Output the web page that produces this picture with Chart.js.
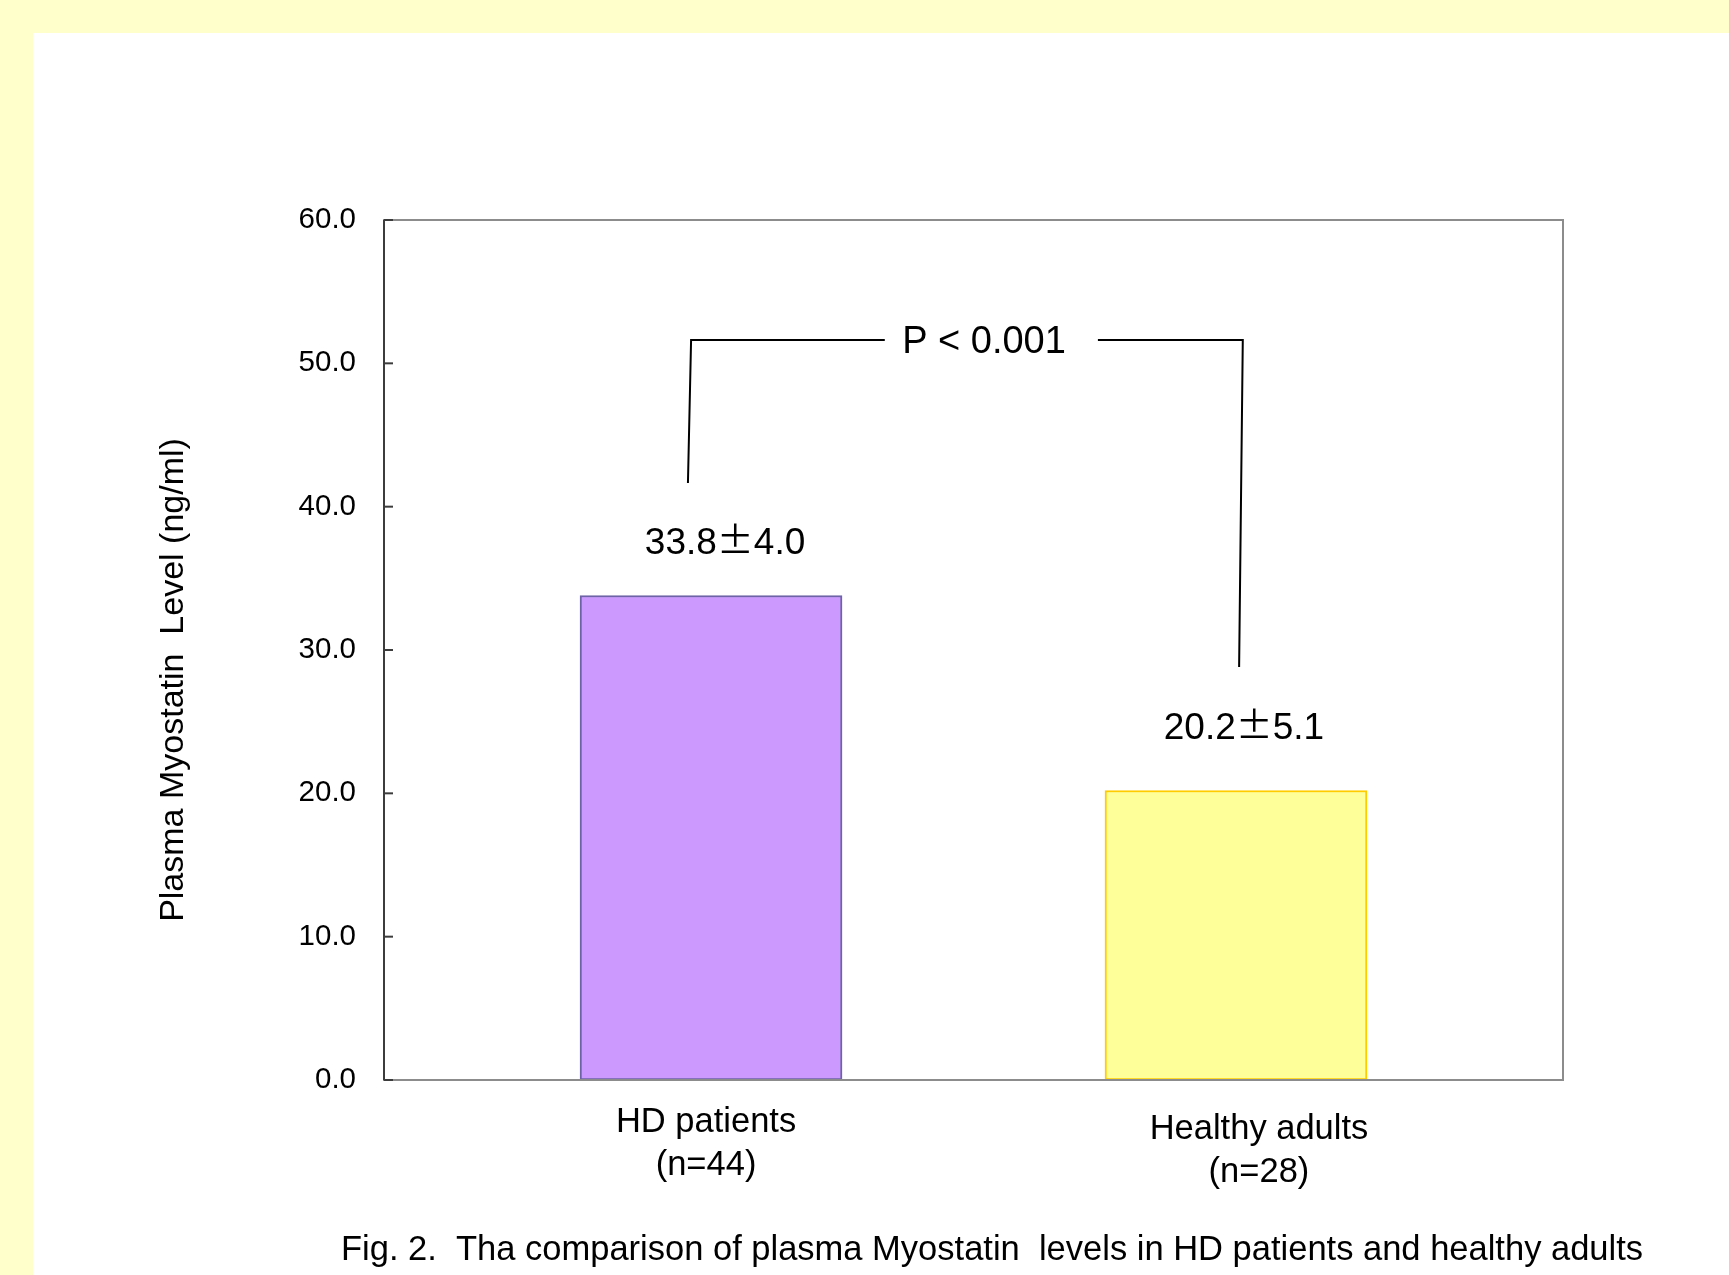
<!DOCTYPE html>
<html>
<head>
<meta charset="utf-8">
<script src="https://cdn.jsdelivr.net/npm/chart.js@4/dist/chart.umd.min.js"></script>
<style>
  html, body { margin: 0; padding: 0; background: #FFFFCC; width: 1729px; height: 1275px; overflow: hidden; }
  #panel { position: absolute; left: 33px; top: 33px; width: 1696px; height: 1242px; background: #fff; }
  canvas { display: block; }
</style>
</head>
<body>
<div id="panel"><canvas id="c" width="1696" height="1242"></canvas></div>
<script>
// Groups and measured plasma myostatin (ng/ml): mean and SD
const groups = ['HD patients', 'Healthy adults'];
const groupN = [44, 28];
const means = [33.8, 20.2];
const sds = [4.0, 5.1];
const yTicks = [0, 10, 20, 30, 40, 50, 60];
const pLabel = 'P < 0.001';
const yTitle = 'Plasma Myostatin  Level (ng/ml)';
const caption = 'Fig. 2.  Tha comparison of plasma Myostatin  levels in HD patients and healthy adults';

// Significance bracket, in data units (x = group position, y = ng/ml)
const bracketLeft = [[0.956, 41.65], [0.962, 51.63], [1.331, 51.63]];
const bracketRight = [[1.737, 51.63], [2.013, 51.63], [2.006, 28.81]];
const pLabelPos = [1.52, 51.63];

const FONT = '"Liberation Sans", Arial, sans-serif';
const PM_FONT = '"Noto Sans CJK JP", "Liberation Sans", sans-serif';

// label placement relative to each bar (pixels)
const valueLabelOffset = [[14, -42], [8, -51]];
const groupLabelOffset = [[-5, 0], [23, 7]];

// "mean ± sd" with a full-width plus-minus sign, centred on x
function drawMeanSd(ctx, left, right, x, y, size) {
  ctx.font = size + 'px ' + FONT;
  const wl = ctx.measureText(left).width;
  const wr = ctx.measureText(right).width;
  ctx.font = size + 'px ' + PM_FONT;
  const wp = ctx.measureText('\u00B1').width;
  let cx = x - (wl + wp + wr) / 2;
  ctx.textAlign = 'left';
  ctx.font = size + 'px ' + FONT;
  ctx.fillText(left, cx, y);
  cx += wl;
  ctx.font = size + 'px ' + PM_FONT;
  ctx.fillText('\u00B1', cx, y);
  cx += wp;
  ctx.font = size + 'px ' + FONT;
  ctx.fillText(right, cx, y);
  ctx.textAlign = 'center';
}

const annotations = {
  id: 'annotations',
  afterDraw(chart) {
    const ctx = chart.ctx;
    const xs = chart.scales.x, ys = chart.scales.y;
    const a = chart.chartArea;
    ctx.save();

    // plot frame
    ctx.lineWidth = 2;
    ctx.strokeStyle = '#8c8c8c';
    ctx.strokeRect(a.left, a.top, a.right - a.left, a.bottom - a.top);
    ctx.strokeStyle = '#3c3c3c';
    ctx.beginPath();
    ctx.moveTo(a.left, a.top);
    ctx.lineTo(a.left, a.bottom);
    ctx.stroke();
    // inward tick marks
    yTicks.forEach(v => {
      const y = ys.getPixelForValue(v);
      ctx.beginPath();
      ctx.moveTo(a.left, y);
      ctx.lineTo(a.left + 9, y);
      ctx.stroke();
    });

    // value labels over bars
    ctx.fillStyle = '#000';
    ctx.textAlign = 'center';
    ctx.textBaseline = 'alphabetic';
    means.forEach((m, i) => {
      const x = xs.getPixelForValue(i + 1) + valueLabelOffset[i][0];
      const y = ys.getPixelForValue(m) + valueLabelOffset[i][1];
      drawMeanSd(ctx, m.toFixed(1), sds[i].toFixed(1), x, y, 37);
    });

    // group labels under the axis
    ctx.font = '34.5px ' + FONT;
    ctx.textBaseline = 'middle';
    groups.forEach((g, i) => {
      const x = xs.getPixelForValue(i + 1) + groupLabelOffset[i][0];
      const y = a.bottom + 42 + groupLabelOffset[i][1];
      ctx.fillText(g, x, y);
      ctx.fillText('(n=' + groupN[i] + ')', x, y + 43);
    });

    // significance bracket
    ctx.strokeStyle = '#000';
    ctx.lineWidth = 2;
    [bracketLeft, bracketRight].forEach(path => {
      ctx.beginPath();
      path.forEach(([vx, vy], k) => {
        const px = xs.getPixelForValue(vx), py = ys.getPixelForValue(vy);
        if (k === 0) ctx.moveTo(px, py); else ctx.lineTo(px, py);
      });
      ctx.stroke();
    });
    ctx.font = '38px ' + FONT;
    ctx.textBaseline = 'middle';
    ctx.fillText(pLabel, xs.getPixelForValue(pLabelPos[0]), ys.getPixelForValue(pLabelPos[1]) + 3);

    // y-axis title
    ctx.save();
    ctx.translate(141, ys.getPixelForValue(30) + 30);
    ctx.rotate(-Math.PI / 2);
    ctx.font = '34px ' + FONT;
    ctx.fillText(yTitle, 0, 0);
    ctx.restore();

    // figure caption
    ctx.font = '34.5px ' + FONT;
    ctx.fillText(caption, 959, 1217);

    ctx.restore();
  }
};

new Chart(document.getElementById('c'), {
  type: 'bar',
  data: {
    datasets: [{
      data: means.map((m, i) => ({ x: i + 1, y: m })),
      backgroundColor: ['#CC99FF', '#FFFF99'],
      borderColor: ['#6E63A8', '#FFCC00'],
      borderWidth: 2,
      borderSkipped: false,
      barThickness: 262
    }]
  },
  options: {
    responsive: false,
    animation: false,
    devicePixelRatio: 1,
    layout: { padding: { left: 231, right: 166, top: 187, bottom: 195 } },
    plugins: { legend: { display: false }, tooltip: { enabled: false } },
    scales: {
      x: { type: 'linear', offset: false, min: 0.377, max: 2.623, display: false },
      y: {
        min: 0, max: 60,
        afterBuildTicks(scale) { scale.ticks = yTicks.map(v => ({ value: v })); },
        afterFit(scale) { scale.width = 120; },
        grid: { display: false, drawTicks: false },
        border: { display: false },
        ticks: {
          padding: 28,
          color: '#000',
          font: { family: FONT, size: 29.5 },
          callback: v => Number(v).toFixed(1)
        }
      }
    }
  },
  plugins: [annotations]
});
</script>
</body>
</html>
